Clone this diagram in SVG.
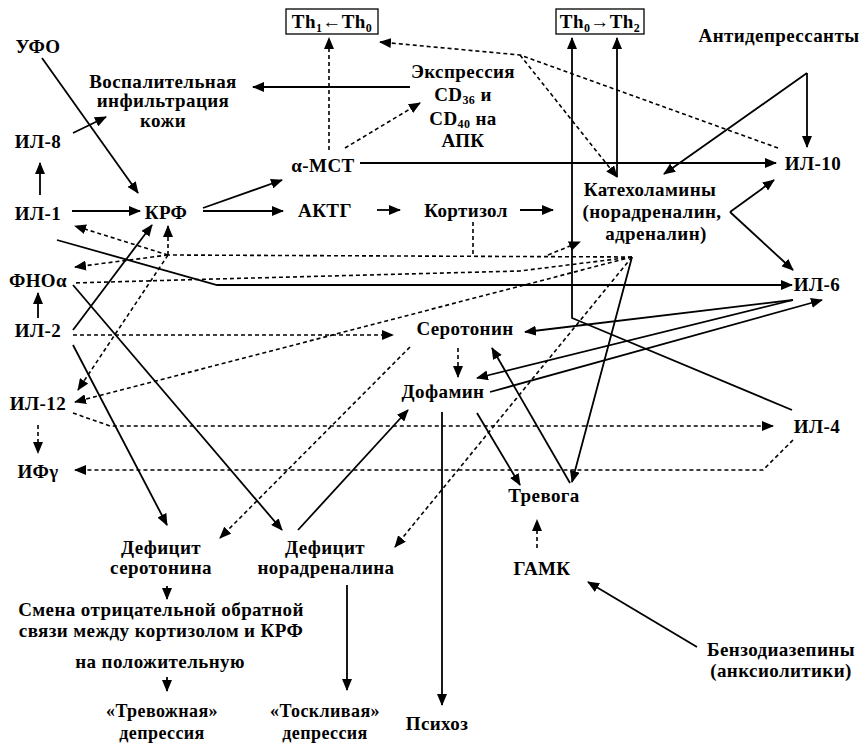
<svg xmlns="http://www.w3.org/2000/svg" width="866" height="743" viewBox="0 0 866 743">
<defs>
<marker id="ah" viewBox="0 0 12 10" refX="11" refY="5" markerWidth="12" markerHeight="10" markerUnits="userSpaceOnUse" orient="auto"><path d="M0,0 L12,5 L0,10 z" fill="#000"/></marker>
<style>
.t{font-family:"Liberation Serif","Times New Roman",serif;font-weight:bold;font-size:19px;letter-spacing:0.4px;fill:#000;text-anchor:middle}
.b{font-size:18px}
.s{fill:none;stroke:#000;stroke-width:1.8}
.d{fill:none;stroke:#000;stroke-width:1.6;stroke-dasharray:4 3}
.a{marker-end:url(#ah)}
.box{fill:#fff;stroke:#000;stroke-width:1.3}
</style>
</defs>
<rect width="866" height="743" fill="#fff"/>

<g id="connectors">
<!-- solid -->
<path class="s a" d="M42,58 L138,193"/>
<path class="s a" d="M73,133 L106,117"/>
<path class="s a" d="M40,195 L40,163"/>
<path class="s a" d="M72,211 L140,211"/>
<path class="s a" d="M203,208 L282,180"/>
<path class="s a" d="M203,211 L283,211"/>
<path class="s a" d="M377,210 L400,210"/>
<path class="s a" d="M520,210 L553,210"/>
<path class="s a" d="M410,87 L253,87"/>
<path class="s a" d="M360,163 L776,163"/>
<path class="s a" d="M807,73 L807,147"/>
<path class="s a" d="M807,73 L664,174"/>
<path class="s a" d="M730,212 L774,180"/>
<path class="s a" d="M730,212 L793,270"/>
<path class="s a" d="M617,177 L617,38"/>
<path class="s a" d="M792,410 L572,318 L572,38"/>
<path class="s a" d="M57,240 L217,285 L792,285"/>
<path class="s a" d="M38,318 L38,293"/>
<path class="s a" d="M73,330 L152,225"/>
<path class="s a" d="M73,285 L282,530"/>
<path class="s a" d="M73,345 L167,525"/>
<path class="s a" d="M298,530 L408,410"/>
<path class="s a" d="M793,300 L525,332"/>
<path class="s a" d="M793,300 L477,378"/>
<path class="s a" d="M490,392 L822,300"/>
<path class="s a" d="M477,413 L520,485"/>
<path class="s a" d="M442,412 L442,705"/>
<path class="s a" d="M570,483 L492,348"/>
<path class="s a" d="M632,257 L572,482"/>
<path class="s a" d="M697,647 L588,582"/>
<path class="s a" d="M347,585 L347,690"/>
<path class="s a" d="M167,586 L167,599"/>
<path class="s a" d="M167,677 L167,691"/>
<!-- dashed -->
<path class="d a" d="M329,150 L329,38"/>
<path class="d a" d="M345,148 L420,103"/>
<path class="d a" d="M778,148 L520,55 L380,42"/>
<path class="d a" d="M520,55 L617,177"/>
<path class="d" d="M473,222 L473,255"/>
<path class="d" d="M632,257 L168,255"/>
<path class="d a" d="M548,255 L580,242"/>
<path class="d a" d="M168,255 L75,226"/>
<path class="d a" d="M168,255 L75,267"/>
<path class="d a" d="M168,255 L168,226"/>
<path class="d a" d="M168,255 L78,390"/>
<path class="d" d="M632,257 L520,271 L215,279 L73,283"/>
<path class="d a" d="M632,257 L75,402"/>
<path class="d a" d="M73,335 L393,335"/>
<path class="d a" d="M73,413 L110,426 L773,426"/>
<path class="d a" d="M793,440 L763,470 L75,470"/>
<path class="d a" d="M38,425 L38,453"/>
<path class="d a" d="M410,347 L220,538"/>
<path class="d a" d="M632,257 L395,547"/>
<path class="d a" d="M458,348 L458,377"/>
<path class="d a" d="M537,548 L537,520"/>
</g>

<g id="th1"><rect class="box" x="286" y="9" width="92" height="25"/><text class="t" x="332" y="28">Th<tspan font-size="12" dy="4">1</tspan><tspan dy="-4">←Th</tspan><tspan font-size="12" dy="4">0</tspan></text></g>
<g id="th2"><rect class="box" x="556" y="9" width="88" height="25"/><text class="t" x="600" y="28">Th<tspan font-size="12" dy="4">0</tspan><tspan dy="-4">→Th</tspan><tspan font-size="12" dy="4">2</tspan></text></g>
<g id="ufo"><text class="t" x="38" y="53">УФО</text></g>
<g id="vospal"><text class="t" x="163" y="88">Воспалительная</text><text class="t" x="163" y="107">инфильтрация</text><text class="t" x="163" y="127">кожи</text></g>
<g id="il8"><text class="t" x="38" y="148">ИЛ-8</text></g>
<g id="il1"><text class="t" x="38" y="220">ИЛ-1</text></g>
<g id="krf"><text class="t" x="166" y="219">КРФ</text></g>
<g id="amst"><text class="t" x="323" y="172">α-МСТ</text></g>
<g id="aktg"><text class="t" x="325" y="217">АКТГ</text></g>
<g id="kortizol"><text class="t" x="466" y="217">Кортизол</text></g>
<g id="expr"><text class="t" x="463" y="78">Экспрессия</text><text class="t" x="463" y="101">CD<tspan font-size="12" dy="3">36</tspan><tspan dy="-3"> и</tspan></text><text class="t" x="463" y="125">CD<tspan font-size="12" dy="3">40</tspan><tspan dy="-3"> на</tspan></text><text class="t" x="463" y="147">АПК</text></g>
<g id="antidep"><text class="t" x="779" y="42">Антидепрессанты</text></g>
<g id="il10"><text class="t" x="813" y="170">ИЛ-10</text></g>
<g id="katehol"><text class="t" x="650" y="196">Катехоламины</text><text class="t" x="652" y="218">(норадреналин,</text><text class="t" x="656" y="240">адреналин)</text></g>
<g id="il6"><text class="t" x="817" y="291">ИЛ-6</text></g>
<g id="fno"><text class="t" x="38" y="287">ФНОα</text></g>
<g id="il2"><text class="t" x="38" y="337">ИЛ-2</text></g>
<g id="serotonin"><text class="t" x="465" y="335">Серотонин</text></g>
<g id="dofamin"><text class="t" x="443" y="398">Дофамин</text></g>
<g id="il12"><text class="t" x="38" y="410">ИЛ-12</text></g>
<g id="il4"><text class="t" x="817" y="433">ИЛ-4</text></g>
<g id="ifg"><text class="t" x="38" y="478">ИФγ</text></g>
<g id="trevoga"><text class="t" x="544" y="502">Тревога</text></g>
<g id="gamk"><text class="t" x="542" y="575">ГАМК</text></g>
<g id="defser"><text class="t" x="161" y="554">Дефицит</text><text class="t" x="161" y="574">серотонина</text></g>
<g id="defnor"><text class="t" x="325" y="554">Дефицит</text><text class="t" x="326" y="574">норадреналина</text></g>
<g id="smena"><text class="t" x="161" y="616">Смена отрицательной обратной</text><text class="t" x="161" y="637">связи между кортизолом и КРФ</text><text class="t" x="160" y="668">на положительную</text></g>
<g id="trevdep"><text class="t b" x="162" y="717">«Тревожная»</text><text class="t b" x="162" y="739">депрессия</text></g>
<g id="toskdep"><text class="t b" x="325" y="717">«Тоскливая»</text><text class="t b" x="325" y="739">депрессия</text></g>
<g id="psihoz"><text class="t" x="437" y="730">Психоз</text></g>
<g id="benzo"><text class="t" x="781" y="656">Бензодиазепины</text><text class="t" x="781" y="677">(анксиолитики)</text></g>
</svg>
